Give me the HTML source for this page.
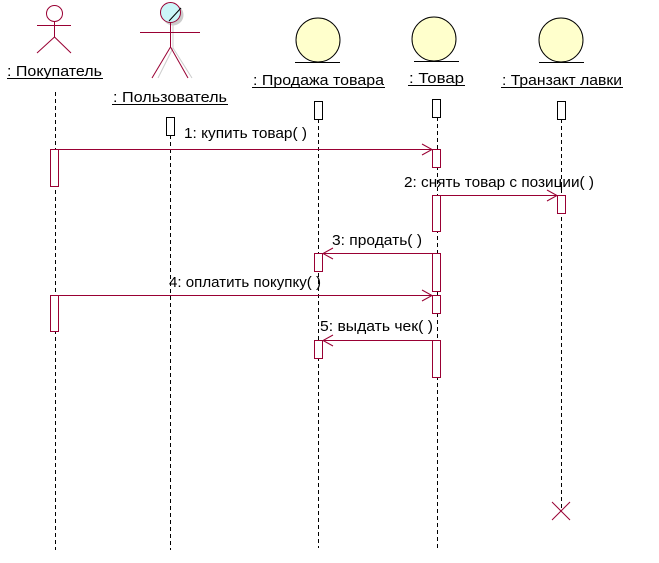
<!DOCTYPE html>
<html><head><meta charset="utf-8"><style>html,body{margin:0;padding:0;background:#fff}svg{display:block}</style></head>
<body>
<svg width="659" height="563" xmlns="http://www.w3.org/2000/svg" font-family="Liberation Sans, DejaVu Sans, sans-serif" font-size="15">
<g stroke="#000" stroke-dasharray="4,3" stroke-width="1">
<line x1="55.5" y1="92" x2="55.5" y2="550"/>
<line x1="170.5" y1="135" x2="170.5" y2="550"/>
<line x1="318.5" y1="119" x2="318.5" y2="548"/>
<line x1="437.5" y1="117" x2="437.5" y2="550"/>
<line x1="561.5" y1="119" x2="561.5" y2="511"/>
</g>
<g stroke="#990033" fill="none">
<circle cx="54.5" cy="13.5" r="8" fill="#fff"/>
<line x1="54.5" y1="21" x2="54.5" y2="37"/>
<line x1="37" y1="25.5" x2="71" y2="25.5"/>
<line x1="54.5" y1="37" x2="37" y2="53"/>
<line x1="54.5" y1="37" x2="71" y2="53"/>
</g>
<text x="7" y="76" textLength="95" lengthAdjust="spacingAndGlyphs">: Покупатель</text>
<line x1="7" y1="78.5" x2="103" y2="78.5" stroke="#000"/>
<g stroke="#ccc" fill="none">
<circle cx="173" cy="15" r="10" fill="#ccc"/>
<line x1="173" y1="24" x2="173" y2="48"/>
<line x1="173" y1="48" x2="158" y2="78"/>
<line x1="173" y1="48" x2="192" y2="78"/>
</g>
<g stroke="#990033" fill="none">
<circle cx="170.5" cy="12.5" r="10" fill="#ccf6f8"/>
<line x1="170.5" y1="22" x2="170.5" y2="47"/>
<line x1="140" y1="32.5" x2="200" y2="32.5"/>
<line x1="170.5" y1="47" x2="152" y2="78"/>
<line x1="170.5" y1="47" x2="188" y2="78"/>
</g>
<line x1="169" y1="21" x2="181" y2="8" stroke="#000"/>
<text x="113" y="102" textLength="114" lengthAdjust="spacingAndGlyphs">: Пользователь</text>
<line x1="112" y1="104.5" x2="228" y2="104.5" stroke="#000"/>
<g stroke="#000" fill="#ffffcc">
<circle cx="318" cy="40" r="22"/>
<circle cx="434" cy="39" r="22"/>
<circle cx="561" cy="40" r="22"/>
</g>
<g stroke="#000">
<line x1="295" y1="62.5" x2="340" y2="62.5"/>
<line x1="414" y1="61.5" x2="459" y2="61.5"/>
<line x1="539" y1="62.5" x2="584" y2="62.5"/>
</g>
<text x="253" y="85" textLength="131" lengthAdjust="spacingAndGlyphs">: Продажа товара</text>
<line x1="252" y1="87.5" x2="385" y2="87.5" stroke="#000"/>
<text x="409" y="83" textLength="55" lengthAdjust="spacingAndGlyphs">: Товар</text>
<line x1="408" y1="85.5" x2="465" y2="85.5" stroke="#000"/>
<text x="502" y="85" textLength="120" lengthAdjust="spacingAndGlyphs">: Транзакт лавки</text>
<line x1="501" y1="87.5" x2="623" y2="87.5" stroke="#000"/>
<g stroke="#000" fill="#fff">
<rect x="314.5" y="101.5" width="8" height="18"/>
<rect x="432.5" y="99.5" width="8" height="18"/>
<rect x="557.5" y="101.5" width="8" height="18"/>
<rect x="166.5" y="117.5" width="8" height="18"/>
</g>
<g stroke="#990033" fill="#fff">
<rect x="50.5" y="149.5" width="8" height="37"/>
<rect x="432.5" y="149.5" width="8" height="18"/>
<rect x="432.5" y="195.5" width="8" height="36"/>
<rect x="557.5" y="195.5" width="8" height="18"/>
<rect x="314.5" y="253.5" width="8" height="18"/>
<rect x="432.5" y="253.5" width="8" height="38"/>
<rect x="50.5" y="295.5" width="8" height="36"/>
<rect x="432.5" y="295.5" width="8" height="18"/>
<rect x="314.5" y="340.5" width="8" height="18"/>
<rect x="432.5" y="340.5" width="8" height="37"/>
</g>
<g stroke="#990033" fill="none">
<line x1="58" y1="149.5" x2="432" y2="149.5"/>
<polyline points="422,144 432,149.5 422,155"/>
<line x1="440" y1="195.5" x2="557" y2="195.5"/>
<polyline points="547,190 557,195.5 547,201"/>
<line x1="432" y1="253.5" x2="323" y2="253.5"/>
<polyline points="333,248 323,253.5 333,259"/>
<line x1="58" y1="295.5" x2="432" y2="295.5"/>
<polyline points="422,290 432,295.5 422,301"/>
<line x1="432" y1="340.5" x2="323" y2="340.5"/>
<polyline points="333,335 323,340.5 333,346"/>
<line x1="552" y1="502" x2="570" y2="520"/>
<line x1="570" y1="502" x2="552" y2="520"/>
</g>
<text x="184" y="138" textLength="123" lengthAdjust="spacingAndGlyphs">1: купить товар( )</text>
<text x="404" y="187" textLength="190" lengthAdjust="spacingAndGlyphs">2: снять товар с позиции( )</text>
<text x="332" y="245" textLength="90" lengthAdjust="spacingAndGlyphs">3: продать( )</text>
<text x="169" y="287" textLength="152" lengthAdjust="spacingAndGlyphs">4: оплатить покупку( )</text>
<text x="320" y="331" textLength="113" lengthAdjust="spacingAndGlyphs">5: выдать чек( )</text>
</svg>
</body></html>
